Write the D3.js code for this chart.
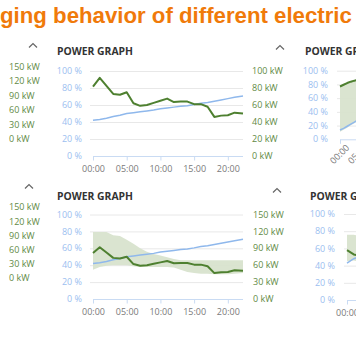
<!DOCTYPE html>
<html><head><meta charset="utf-8">
<script src="https://cdn.jsdelivr.net/npm/d3@7"></script>
<style>
html,body{margin:0;padding:0;background:#fff;overflow:hidden}
svg{display:block}
text{font-family:"Open Sans",sans-serif}
</style></head>
<body>
<script>
// ---------- data ----------
const titleText = "ging behavior of different electric";
const panelTitle = "POWER GRAPH";
const hours = [0,1,2,3,4,5,6,7,8,9,10,11,12,13,14,15,16,17,18,19,20,21,22.25];
const xTickHours = [0,5,10,15,20];
const pctTicks = [0,20,40,60,80,100];
const kwTicks100 = [0,20,40,60,80,100];
const kwTicks150 = [0,30,60,90,120,150];
const sideKwLabels = [150,120,90,60,30,0];

// charging power (kW) and battery level (%) – shared by the left panels
const powerKw   = [81.5,92,82.5,73,72,75,62,59,60,62.5,65,67.5,63.5,64,64,61,61,58,46,47.5,48,51,50];
const batteryPc = [42,43,44.5,46.5,48,50,51,52,53,54,55.5,56.5,57.5,58.5,59.2,60.5,62,63,64.5,66,67.5,69,70.6];
// min / max band (kW) for the lower-left panel
const bandHiKw  = [119,119,119,113,112,105,98,90,84,80,77,74,71,69,69,69,69,69,69,69,69,69,69];
const bandLoKw  = [52,57,59,60,60,60,58,57,57,57,57,57,56,52,48,46,45,45,44,44,44,45,46];

// right-hand panels (only their beginning is visible)
const hoursB    = [0,1,2,3,4,5,6];
const xTicksB   = [0,5];
const powerB    = [77,79.5,82,84,85.5,86.5,87];     // % scale
const batteryB  = [13.5,16,19,22,25,28,31];
const bandHiB   = [78,80.5,83,85,86.5,87.5,88];
const bandLoB   = [11,14,17,20.5,23.5,26.5,29.5];

const hoursD    = [0,1,2,3];
const xTicksD   = [0];
const powerD    = [58,53,51,50];
const batteryD  = [43,48,51,53];
const bandHiD   = [76,76,74,72];
const bandLoD   = [45,46,44,44];

// ---------- drawing ----------
const W = 356, H = 364;
const svg = d3.select("body").append("svg").attr("width", W).attr("height", H);

const C = {
  orange:"#f07a0a", green:"#4e8030", greenTxt:"#628a45", blue:"#8fb8ec", blueTxt:"#9cc0f0",
  grid:"#e8e8e8", axis:"#c9dbf3", tickTxt:"#7a7a7a", band:"#d8e3cd", title:"#333"
};

function fitText(sel, width, base) {
  const len = sel.node().getComputedTextLength();
  sel.style("font-size", (base * width / len).toFixed(2) + "px");
}

const t = svg.append("text").attr("x", 0).attr("y", 23)
  .style("font-family", "'Liberation Sans', Arial, sans-serif")
  .style("font-weight", "bold").style("font-size", "20px")
  .attr("fill", C.orange).text(titleText);
fitText(t, 352, 20);

function caret(x, y) {
  svg.append("path").attr("d", `M${x-4},${y+2.5} L${x},${y-1.5} L${x+4},${y+2.5}`)
    .attr("fill", "none").attr("stroke", "#666").attr("stroke-width", 1.2);
}

function sideLabels(x, ys) {
  const y = d3.scaleLinear().domain([150, 0]).range(ys);
  svg.append("g").selectAll("text").data(sideKwLabels).join("text")
    .attr("x", x).attr("y", d => y(d)).attr("dy", "0.35em")
    .attr("fill", C.greenTxt).style("font-size", "9px").text(d => d + " kW");
}

function panel(p) {
  const g = svg.append("g");
  const x = d3.scaleLinear().domain([0, 22.25]).range([p.x0, p.x0 + p.w]);
  const y = d3.scaleLinear().domain([0, 100]).range([p.yBot, p.yTop]);
  const yR = d3.scaleLinear().domain([0, p.rMax]).range([p.yBot, p.yTop]);
  const yv = p.useRight ? yR : y;

  caret(p.caret[0], p.caret[1]);
  const tt = g.append("text").attr("x", p.tx).attr("y", p.ty).attr("fill", C.title)
    .style("font-weight", "bold").style("font-size", "11px").text(panelTitle);
  fitText(tt, 76, 11);

  // grid
  g.append("g").selectAll("line").data(pctTicks.filter(d => d > 0)).join("line")
    .attr("x1", p.x0 - 3).attr("x2", p.x0 + p.w).attr("y1", d => y(d) + 0.5).attr("y2", d => y(d) + 0.5)
    .attr("stroke", C.grid);

  // left axis labels
  g.append("g").selectAll("text").data(pctTicks).join("text")
    .attr("x", p.lx).attr("y", d => y(d)).attr("dy", "0.35em").attr("text-anchor", "end")
    .attr("fill", C.blueTxt).style("font-size", "9px").text(d => d + " %");

  // right axis labels
  if (p.rx) {
    g.append("g").selectAll("text").data(p.rTicks).join("text")
      .attr("x", p.rx).attr("y", d => yR(d)).attr("dy", "0.35em")
      .attr("fill", C.greenTxt).style("font-size", "9px").text(d => d + " kW");
  }

  // band
  if (p.hi) {
    g.append("path").datum(p.hrs.map((h, i) => [h, p.lo[i], p.hi[i]]))
      .attr("fill", C.band).attr("opacity", 0.95)
      .attr("d", d3.area().x(d => x(d[0])).y0(d => yv(d[1])).y1(d => yv(d[2])));
  }

  // x axis
  const ax = g.append("g").attr("transform", `translate(0,${p.yBot + 0.5})`)
    .call(d3.axisBottom(x).tickValues(p.xt).tickSize(4).tickPadding(5)
      .tickFormat(d => String(d).padStart(2, "0") + ":00"));
  ax.select(".domain").attr("stroke", C.axis).attr("d", `M${p.x0},0H${p.x0 + p.w}`);
  ax.selectAll(".tick line").attr("stroke", C.axis);
  ax.selectAll(".tick text").attr("fill", C.tickTxt).style("font-size", "9px")
    .style("font-family", "'Open Sans',sans-serif");
  if (p.rot) {
    ax.selectAll(".tick text").attr("text-anchor", "end")
      .attr("transform", "translate(3,2) rotate(-45)").attr("dy", "0.35em").attr("y", 6).attr("x", 0);
  }

  // battery line
  g.append("path").datum(p.hrs.map((h, i) => [h, p.bat[i]]))
    .attr("fill", "none").attr("stroke", C.blue).attr("stroke-width", 1.5)
    .attr("d", d3.line().x(d => x(d[0])).y(d => y(d[1])));
  // power line
  g.append("path").datum(p.hrs.map((h, i) => [h, p.pow[i]]))
    .attr("fill", "none").attr("stroke", C.green).attr("stroke-width", 2)
    .attr("stroke-linejoin", "round")
    .attr("d", d3.line().x(d => x(d[0])).y(d => yv(d[1])));
}

sideLabels(9, [66.7, 139]);
sideLabels(9, [207.3, 278.3]);

panel({x0:93, w:150, yTop:71, yBot:156, lx:82, rx:252, rMax:100, rTicks:kwTicks100, useRight:true,
  tx:57, ty:55, caret:[33,45], xt:xTickHours, hrs:hours, pow:powerKw, bat:batteryPc});
panel({x0:93, w:150, yTop:214.5, yBot:299, lx:82, rx:253, rMax:150, rTicks:kwTicks150, useRight:true,
  tx:57, ty:200, caret:[29,186], xt:xTickHours, hrs:hours, pow:powerKw, bat:batteryPc, hi:bandHiKw, lo:bandLoKw});
panel({x0:340, w:80, yTop:70.7, yBot:139.3, lx:328, rot:true, rMax:100,
  tx:305, ty:55, caret:[280,47], xt:xTicksB, hrs:hoursB, pow:powerB, bat:batteryB, hi:bandHiB, lo:bandLoB});
panel({x0:347, w:150, yTop:214, yBot:300, lx:335, rMax:100,
  tx:310, ty:200, caret:[277,190], xt:xTicksD, hrs:hoursD, pow:powerD, bat:batteryD, hi:bandHiD, lo:bandLoD});
</script>
</body></html>
